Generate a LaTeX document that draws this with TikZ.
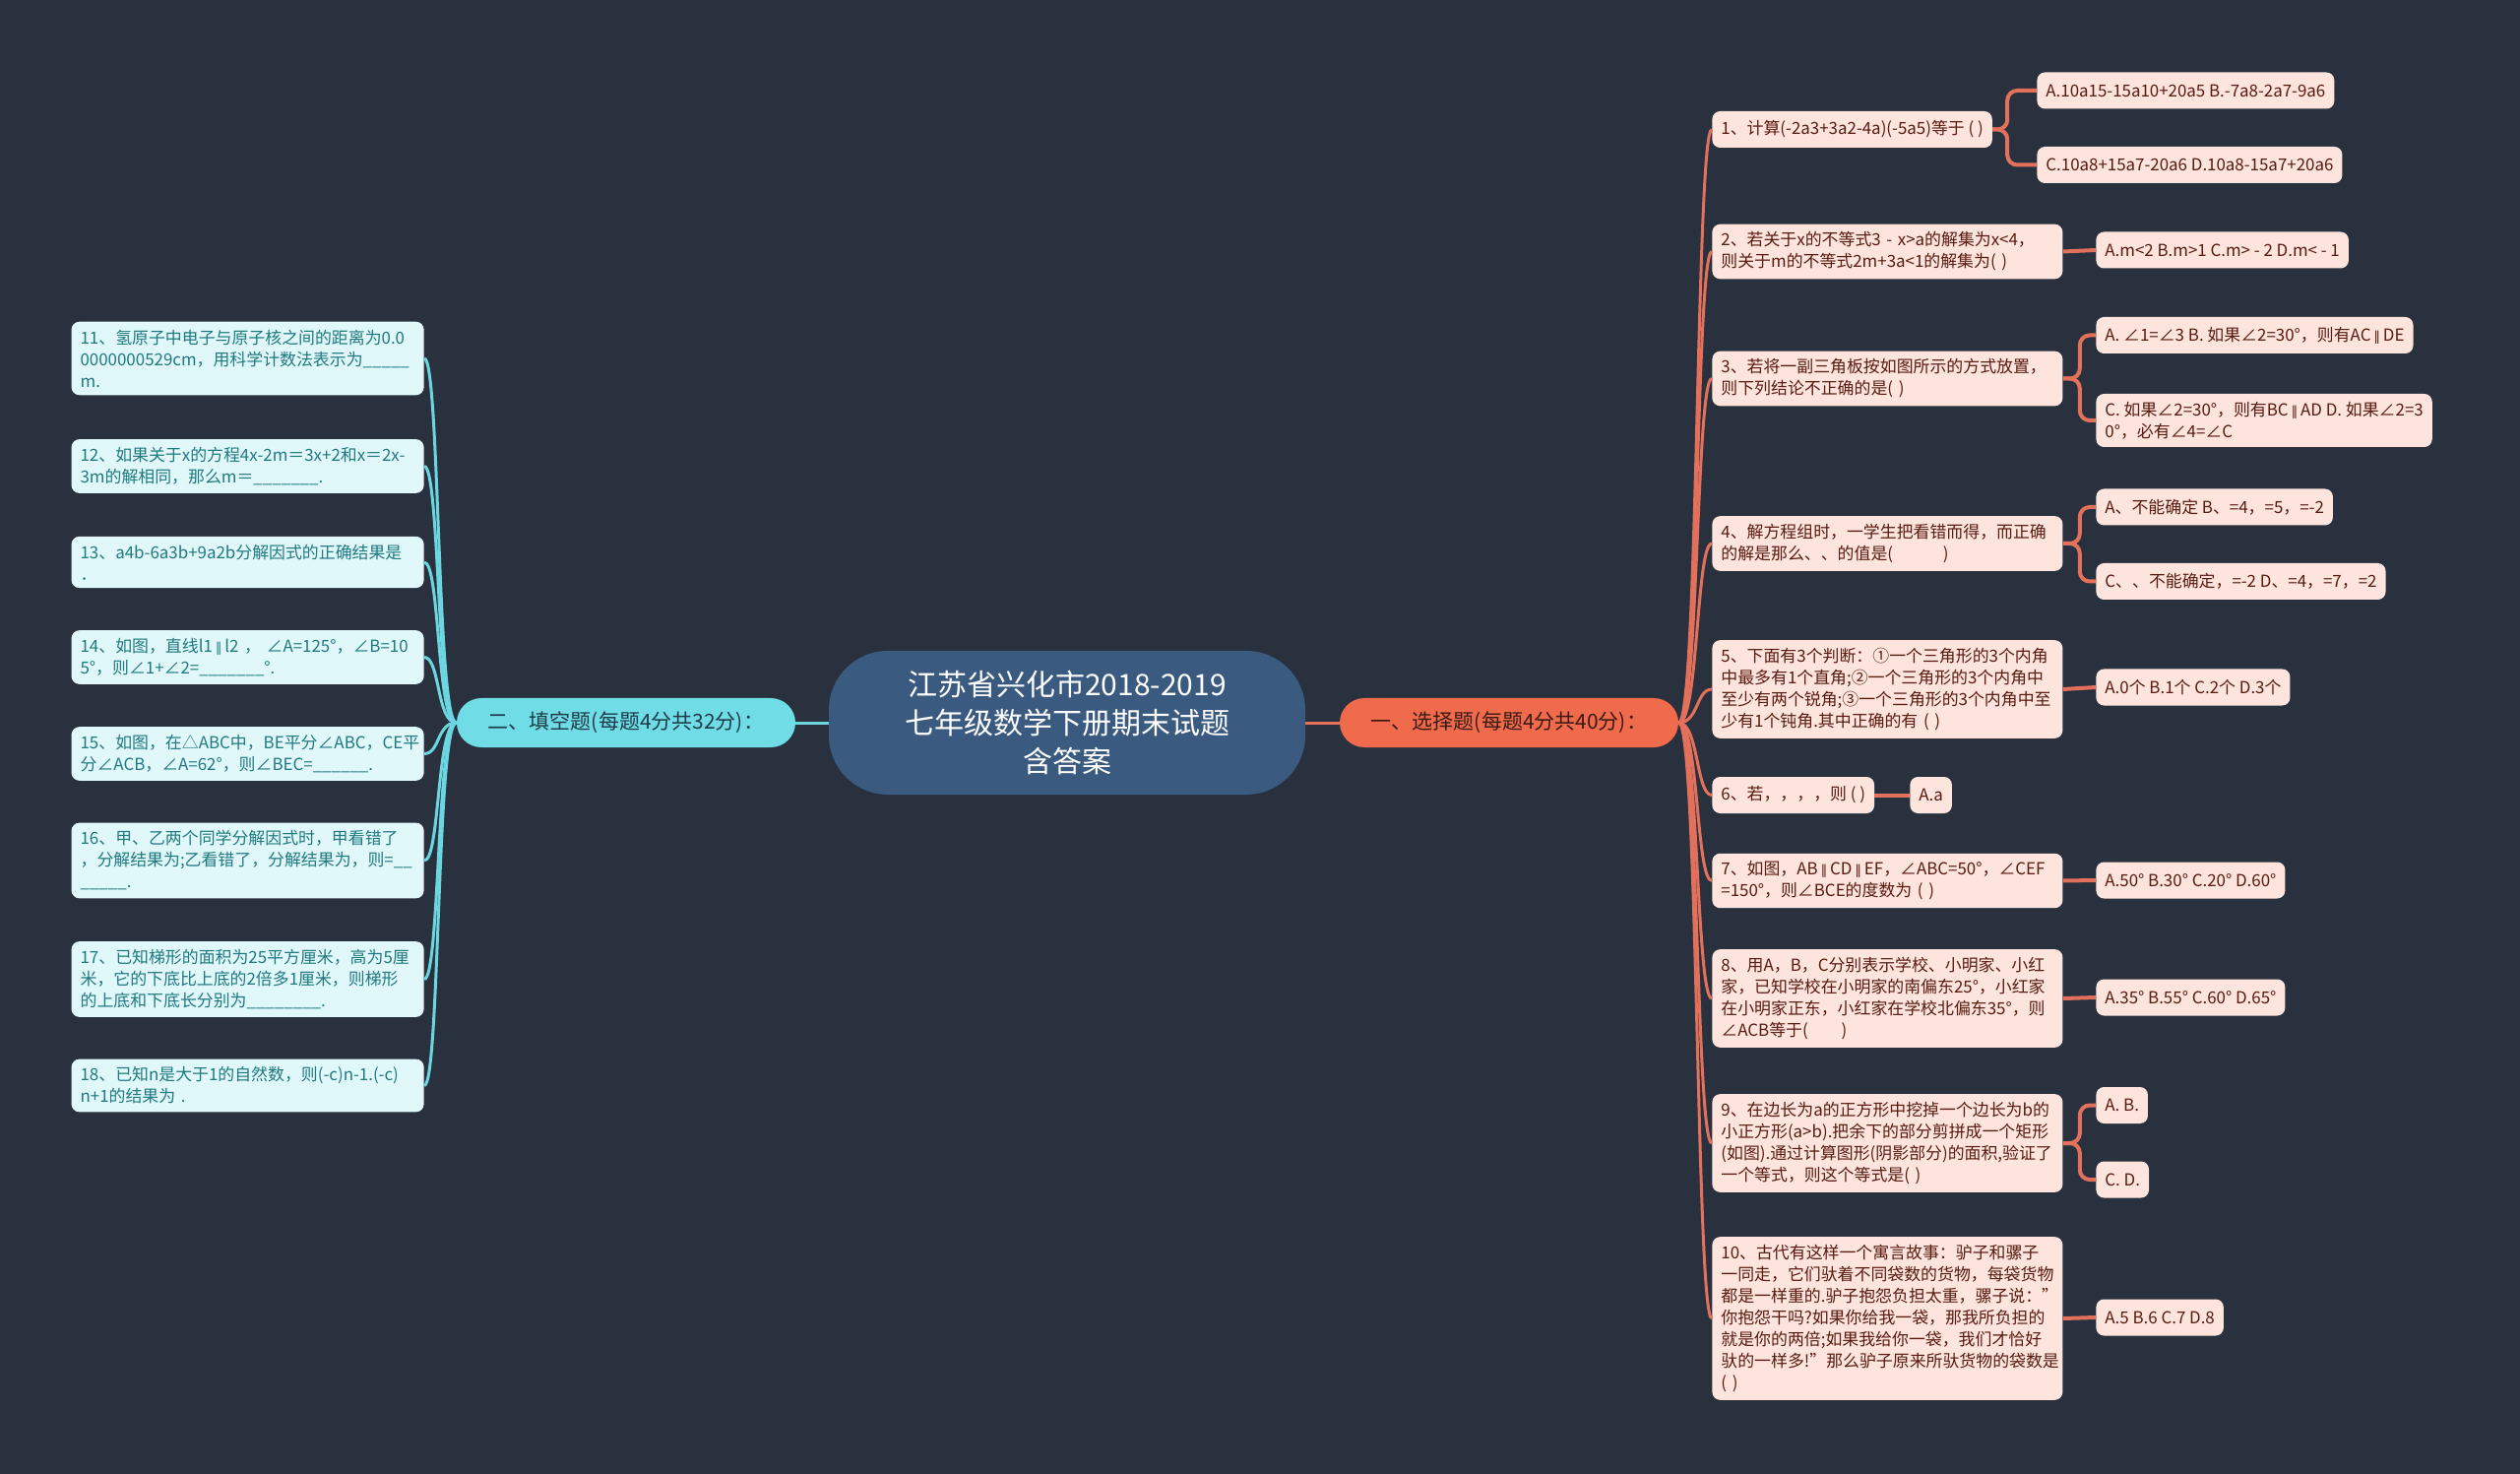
\documentclass[tikz,border=0pt]{standalone}
\usepackage{fontspec}
\setmainfont{Noto Sans CJK SC}
\newfontfamily\parfont[Scale=0.8]{DejaVu Sans}
\newcommand\para{\,{\parfont ∥}\,}
\definecolor{MapBg}    {HTML}{29313F}
\definecolor{RootFill} {HTML}{3B5A80}
\definecolor{SelFill}  {HTML}{F06B4C}
\definecolor{SelDark}  {HTML}{3A1A12}
\definecolor{SelLine}  {HTML}{E3705A}
\definecolor{SelLeaf}  {HTML}{FDE4DD}
\definecolor{SelText}  {HTML}{5A1B10}
\definecolor{BlankFill}{HTML}{70DDE6}
\definecolor{BlankDark}{HTML}{1E3B4A}
\definecolor{BlankLine}{HTML}{6BD6E0}
\definecolor{BlankLeaf}{HTML}{E1F8FA}
\definecolor{BlankText}{HTML}{1F7A80}

\begin{document}
\begin{tikzpicture}[x=0.5pt,y=-0.5pt,
  rootbox/.style={fill=RootFill,rounded corners=30pt,
                  minimum width=242pt,minimum height=73pt,align=center,
                  text=white,font=\fontsize{15}{19.5}\selectfont},
  branchbox/.style={fill=#1,rounded corners=12.5pt,
                    minimum width=172pt,minimum height=25pt,
                    font=\fontsize{10.5}{13}\selectfont},
  leaf/.style={rounded corners=4pt,inner xsep=4.5pt,inner ysep=4pt,
               minimum height=18.5pt,align=left,
               font=\fontsize{8.45}{11}\selectfont},
  sela/.style={leaf,fill=SelLeaf,text=SelText,anchor=west},
  selq/.style={sela,text width=169pt},
  blankq/.style={leaf,fill=BlankLeaf,text=BlankText,anchor=east,text width=170pt},
  selline/.style={draw=SelLine,line width=1.5pt},
  selans/.style={draw=SelLine,line width=2pt,rounded corners=5pt},
  blankline/.style={draw=BlankLine,line width=1.5pt}
]
  \useasboundingbox (0,0) rectangle (2560,1497);
  \fill[MapBg] (0,0) rectangle (2560,1497);

  % centre and the two branches
  \node[rootbox] (root) at (1084,734) {江苏省兴化市2018-2019\\七年级数学下册期末试题\\含答案};
  \node[branchbox=SelFill,text=SelDark] (sel) at (1533,734) {一、选择题(每题4分共40分)：};
  \node[branchbox=BlankFill,text=BlankDark] (blk) at (636,734) {二、填空题(每题4分共32分)：};

  % choice questions
  \node[sela] (q1) at (1739,131.5) {1、计算(-2a3+3a2-4a)(-5a5)等于 ( )};
  \node[selq] (q2) at (1739,255.5) {2、若关于x的不等式3~-~x>a的解集为x<4，\\则关于m的不等式2m+3a<1的解集为( )};
  \node[selq] (q3) at (1739,384.5) {3、若将一副三角板按如图所示的方式放置，\\则下列结论不正确的是( )};
  \node[selq] (q4) at (1739,552) {4、解方程组时，一学生把看错而得，而正确\\的解是那么、、的值是(　　　)};
  \node[selq] (q5) at (1739,700) {5、下面有3个判断：①一个三角形的3个内角\\中最多有1个直角;②一个三角形的3个内角中\\至少有两个锐角;③一个三角形的3个内角中至\\少有1个钝角.其中正确的有 ( )};
  \node[sela] (q6) at (1739,807.5) {6、若，，，，则 ( )};
  \node[selq] (q7) at (1739,894.5) {7、如图，AB\para CD\para EF，∠ABC=50°，∠CEF\\=150°，则∠BCE的度数为 ( )};
  \node[selq] (q8) at (1739,1014) {8、用A，B，C分别表示学校、小明家、小红\\家，已知学校在小明家的南偏东25°，小红家\\在小明家正东，小红家在学校北偏东35°，则\\∠ACB等于(　　)};
  \node[selq] (q9) at (1739,1161) {9、在边长为a的正方形中挖掉一个边长为b的\\小正方形(a>b).把余下的部分剪拼成一个矩形\\(如图).通过计算图形(阴影部分)的面积,验证了\\一个等式，则这个等式是( )};
  \node[selq] (q10) at (1739,1339) {10、古代有这样一个寓言故事：驴子和骡子\\一同走，它们驮着不同袋数的货物，每袋货物\\都是一样重的.驴子抱怨负担太重，骡子说："\\你抱怨干吗?如果你给我一袋，那我所负担的\\就是你的两倍;如果我给你一袋，我们才恰好\\驮的一样多!"那么驴子原来所驮货物的袋数是\\( )};

  % answers
  \node[sela] (q1a) at (2069,92)    {A.10a15-15a10+20a5 B.-7a8-2a7-9a6};
  \node[sela] (q1c) at (2069,167.5) {C.10a8+15a7-20a6 D.10a8-15a7+20a6};
  \node[sela] (q2a) at (2129,254)   {A.m<2 B.m>1 C.m> - 2 D.m< - 1};
  \node[sela] (q3a) at (2129,340.5) {A. ∠1=∠3 B. 如果∠2=30°，则有AC\para DE};
  \node[sela] (q3c) at (2129,427)   {C. 如果∠2=30°，则有BC\para AD D. 如果∠2=3\\0°，必有∠4=∠C};
  \node[sela] (q4a) at (2129,515)   {A、不能确定 B、=4，=5，=-2};
  \node[sela] (q4c) at (2129,590.5) {C、、不能确定，=-2 D、=4，=7，=2};
  \node[sela] (q5a) at (2129,698)   {A.0个 B.1个 C.2个 D.3个};
  \node[sela] (q6a) at (1940,807.5) {A.a};
  \node[sela] (q7a) at (2129,894)   {A.50° B.30° C.20° D.60°};
  \node[sela] (q8a) at (2129,1013)  {A.35° B.55° C.60° D.65°};
  \node[sela] (q9a) at (2129,1122.5){A. B.};
  \node[sela] (q9c) at (2129,1198)  {C. D.};
  \node[sela] (q10a) at (2129,1338) {A.5 B.6 C.7 D.8};

  % fill-in questions
  \node[blankq] (q11) at (431,364)    {11、氢原子中电子与原子核之间的距离为0.0\\0000000529cm，用科学计数法表示为\_\_\_\_\_\\m.};
  \node[blankq] (q12) at (431,473.5)  {12、如果关于x的方程4x-2m＝3x+2和x＝2x-\\3m的解相同，那么m＝\_\_\_\_\_\_\_.};
  \node[blankq] (q13) at (431,571)    {13、a4b-6a3b+9a2b分解因式的正确结果是\\．};
  \node[blankq] (q14) at (431,667.5)  {14、如图，直线l1\para l2~，~∠A=125°，∠B=10\\5°，则∠1+∠2=\_\_\_\_\_\_\_°.};
  \node[blankq] (q15) at (431,765.5)  {15、如图，在△ABC中，BE平分∠ABC，CE平\\分∠ACB，∠A=62°，则∠BEC=\_\_\_\_\_\_.};
  \node[blankq] (q16) at (431,874)    {16、甲、乙两个同学分解因式时，甲看错了\\，分解结果为;乙看错了，分解结果为，则=\_\_\\\_\_\_\_\_.};
  \node[blankq] (q17) at (431,994.5)  {17、已知梯形的面积为25平方厘米，高为5厘\\米，它的下底比上底的2倍多1厘米，则梯形\\的上底和下底长分别为\_\_\_\_\_\_\_\_.};
  \node[blankq] (q18) at (431,1102.5) {18、已知n是大于1的自然数，则(-c)n-1.(-c)\\n+1的结果为 .};

  % connectors
  \draw[selline] (root.east) -- (sel.west);
  \draw[blankline] (root.west) -- (blk.east);
  \foreach \q in {q1,q2,q3,q4,q5,q6,q7,q8,q9,q10}
    \draw[selline] (sel.east) .. controls +(20,0) and +(-16,0) .. (\q.west);
  \foreach \q in {q11,q12,q13,q14,q15,q16,q17,q18}
    \draw[blankline] (blk.west) .. controls +(-20,0) and +(16,0) .. (\q.east);

  \draw[selans] (q1.east) -- ++(15,0) |- (q1a.west);
  \draw[selans] (q1.east) -- ++(15,0) |- (q1c.west);
  \foreach \q in {q3,q4,q9} {
    \draw[selans] (\q.east) -- ++(17,0) |- (\q a.west);
    \draw[selans] (\q.east) -- ++(17,0) |- (\q c.west);
  }
  \foreach \q in {q2,q5,q6,q7,q8,q10}
    \draw[selans] (\q.east) -- (\q a.west);
\end{tikzpicture}
\end{document}
